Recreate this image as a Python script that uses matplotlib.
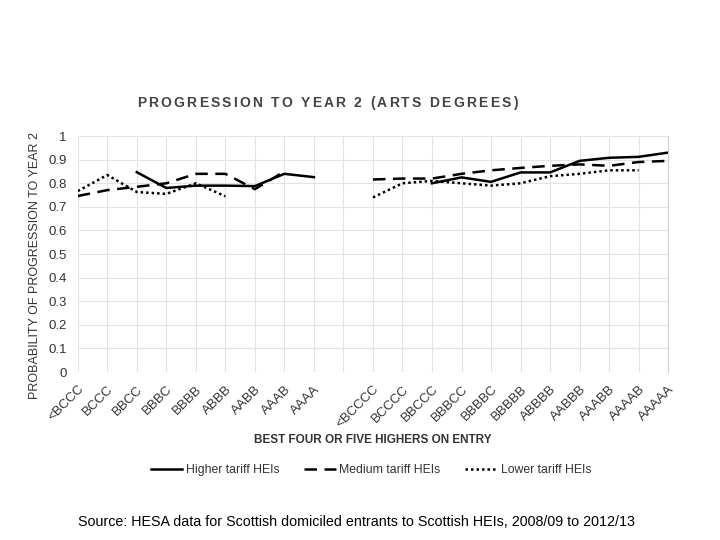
import numpy as np
import matplotlib.pyplot as plt

#-----------------------------------------------------------------------------#
#Data (None = no value)
#-----------------------------------------------------------------------------#
grades = ['<BCCC', 'BCCC', 'BBCC', 'BBBC', 'BBBB', 'ABBB', 'AABB', 'AAAB', 'AAAA', '',
          '<BCCCC', 'BCCCC', 'BBCCC', 'BBBCC', 'BBBBC', 'BBBBB', 'ABBBB', 'AABBB',
          'AAABB', 'AAAAB', 'AAAAA']
higher = [None, None, 0.847, 0.78, 0.79, 0.79, 0.788, 0.84, 0.826, None,
          None, None, 0.80, 0.825, 0.806, 0.846, 0.846, 0.895, 0.908, 0.912, 0.93]
medium = [0.746, 0.771, 0.785, 0.80, 0.84, 0.84, 0.775, 0.85, None, None,
          0.816, 0.82, 0.82, 0.84, 0.855, 0.865, 0.874, 0.88, 0.874, 0.89, 0.895]
lower = [0.767, 0.835, 0.763, 0.755, 0.80, 0.745, None, None, None, None,
         0.74, 0.80, 0.81, 0.80, 0.79, 0.80, 0.83, 0.84, 0.855, 0.855, None]

def arr(v):
    return np.array([np.nan if a is None else a for a in v], dtype=float)

plt.rcParams['font.family'] = ['Liberation Sans', 'DejaVu Sans']

fig = plt.figure(figsize=(7.2, 5.4), dpi=100)
ax = fig.add_axes([0.108, 0.311, 0.82, 0.437])
x = np.arange(len(grades))

ax.plot(x, arr(higher), color='black', lw=1.8, ls='-', label='Higher tariff HEIs')
ax.plot(x, arr(medium), color='black', lw=1.8, ls=(0, (5, 3)), label='Medium tariff HEIs')
ax.plot(x, arr(lower), color='black', lw=1.8, ls=(0, (1, 1.2)), label='Lower tariff HEIs')

ax.set_xlim(0, len(grades) - 1)
ax.set_ylim(0, 1)
ax.set_xticks(x)
ax.set_xticklabels(grades, rotation=45, ha='right', rotation_mode='anchor',
                   fontsize=9.5, color='#333333')
ax.set_yticks(np.arange(0, 1.01, 0.1))
ax.set_yticklabels(['0', '0.1', '0.2', '0.3', '0.4', '0.5', '0.6', '0.7', '0.8', '0.9', '1'],
                   fontsize=9.5, color='#333333')
ax.tick_params(length=0, pad=8)
ax.grid(True, color='#e3e3e3', lw=0.8)
for s in ['left', 'top', 'bottom']:
    ax.spines[s].set_visible(False)
ax.spines['right'].set_color('#d0d0d0')
ax.set_axisbelow(True)

ax.set_ylabel('PROBABILITY OF PROGRESSION TO YEAR 2', fontsize=9, color='#333333')
ax.yaxis.set_label_coords(-0.062, 0.45)
ax.set_xlabel('BEST FOUR OR FIVE HIGHERS ON ENTRY', fontsize=8.5, fontweight='bold',
              color='#333333', labelpad=3)

#title with wide letter spacing, drawn one character at a time
title = 'PROGRESSION TO YEAR 2 (ARTS DEGREES)'
tx = 0.19
for ch in title:
    t = fig.text(tx, 0.81, ch, fontsize=10, fontweight='bold', color='#444444',
                 ha='left', va='center')
    w = t.get_window_extent(renderer=fig.canvas.get_renderer()).width
    if ch == ' ':
        w = 4
    tx += (w + 2.2) / 720

fig.legend(loc='center', bbox_to_anchor=(0.515, 0.129), ncol=3, frameon=False,
           fontsize=8.8, handlelength=2.6, handletextpad=0.3, columnspacing=2.0,
           labelcolor='#333333')

fig.text(0.108, 0.033, 'Source: HESA data for Scottish domiciled entrants to Scottish HEIs, 2008/09 to 2012/13',
         fontsize=10.3, color='black', ha='left', va='center')

fig.savefig('out.png', dpi=100)
